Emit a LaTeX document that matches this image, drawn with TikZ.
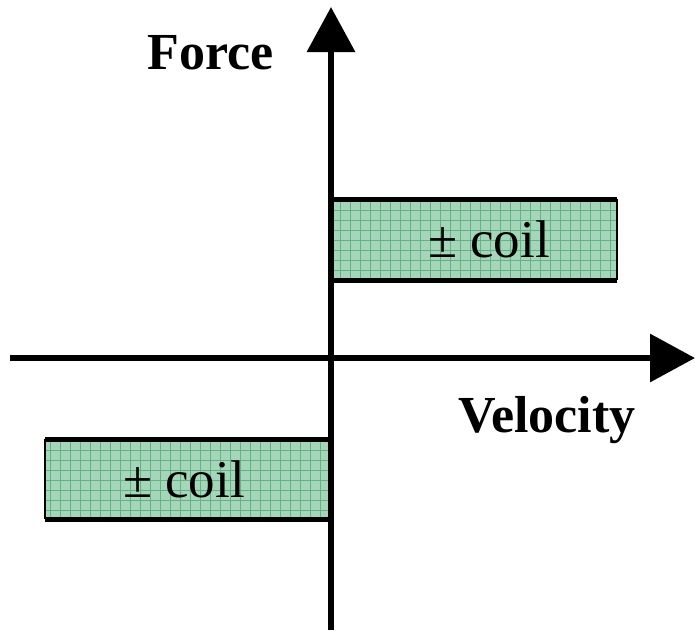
\documentclass[tikz,border=0pt]{standalone}
\usepackage{fontspec}
\setmainfont{Liberation Serif}
\usetikzlibrary{arrows.meta}
\definecolor{boxfill}{RGB}{166,214,186}
\definecolor{gridgreen}{RGB}{98,178,134}
\tikzset{
  axis/.style={line width=6.5pt,-{Triangle[length=45pt,width=47pt]}},
  edge/.style={line width=5pt},
  thinedge/.style={line width=2pt},
  lbl/.style={font=\fontsize{52}{60}\selectfont\bfseries,anchor=base},
  coil/.style={font=\fontsize{53}{60}\selectfont,anchor=base}
}
\begin{document}
\begin{tikzpicture}[x=1pt,y=-1pt]
\useasboundingbox (0,0) rectangle (695,630);
% upper box
\fill[boxfill] (331,199) rectangle (617,280);
\draw[gridgreen,line width=0.7pt,step=10pt] (331,199) grid (617,280);
% lower box
\fill[boxfill] (45,439) rectangle (331,519);
\draw[gridgreen,line width=0.7pt,step=10pt] (45,439) grid (331,519);
\coordinate (ua) at (331,199); \coordinate (ub) at (617,199);
\coordinate (uc) at (617,280); \coordinate (ud) at (331,280);
\coordinate (la) at (45,439); \coordinate (lb) at (331,439);
\coordinate (lc) at (331,519); \coordinate (ld) at (45,519);
\draw[thinedge] (ub) -- (uc);
\draw[thinedge] (la) -- (ld);
\draw[edge] (ua) -- (ub);
\draw[edge] (ud) -- (uc);
\draw[edge] (la) -- (lb);
\draw[edge] (ld) -- (lc);
% axes
\coordinate (vb) at (331,630); \coordinate (vt) at (331,7);
\coordinate (hl) at (10,358); \coordinate (hr) at (695,358);
\draw[axis] (vb) -- (vt);
\draw[axis] (hl) -- (hr);
% labels
\node[lbl] (force) at (211,69) {Force};
\node[lbl] (vel) at (547,432) {Velocity};
\node[coil] (c1) at (489,257) {± coil};
\node[coil] (c2) at (184,497) {± coil};
\end{tikzpicture}
\end{document}
